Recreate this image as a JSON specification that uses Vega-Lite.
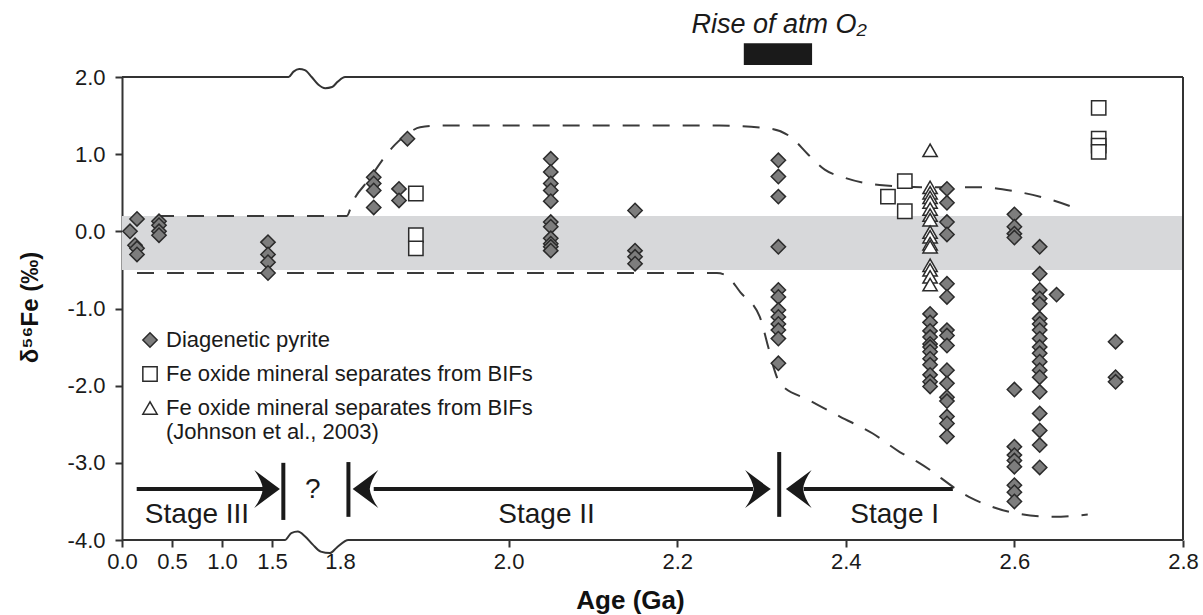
{
  "$schema": "https://vega.github.io/schema/vega-lite/v6.json",
  "width": 1061,
  "height": 463,
  "autosize": "none",
  "padding": {"left": 122, "top": 77, "right": 20, "bottom": 75},
  "background": "white",
  "config": {"view": {"stroke": null}, "font": "Liberation Sans"},
  "datasets": {
    "band": [{"age": 0, "age2": 2.8, "val": -0.5, "val2": 0.2}],
    "o2bar": [{"age": 2.279, "age2": 2.36, "val": 2.155, "val2": 2.437}],
    "env": [
      {"curve": "upper", "age": 0.35, "val": 0.2},
      {"curve": "upper", "age": 1.808, "val": 0.2},
      {"curve": "upper", "age": 1.815, "val": 0.38},
      {"curve": "upper", "age": 1.835, "val": 0.68},
      {"curve": "upper", "age": 1.85, "val": 0.92},
      {"curve": "upper", "age": 1.865, "val": 1.12},
      {"curve": "upper", "age": 1.88, "val": 1.26},
      {"curve": "upper", "age": 1.895, "val": 1.35},
      {"curve": "upper", "age": 1.92, "val": 1.37},
      {"curve": "upper", "age": 2.25, "val": 1.37},
      {"curve": "upper", "age": 2.31, "val": 1.33},
      {"curve": "upper", "age": 2.335, "val": 1.22},
      {"curve": "upper", "age": 2.355, "val": 1.0},
      {"curve": "upper", "age": 2.375, "val": 0.8},
      {"curve": "upper", "age": 2.4, "val": 0.69},
      {"curve": "upper", "age": 2.44, "val": 0.6},
      {"curve": "upper", "age": 2.5, "val": 0.57},
      {"curve": "upper", "age": 2.56, "val": 0.57},
      {"curve": "upper", "age": 2.6, "val": 0.52},
      {"curve": "upper", "age": 2.64, "val": 0.42},
      {"curve": "upper", "age": 2.68, "val": 0.27},
      {"curve": "lower", "age": 0.15, "val": -0.54},
      {"curve": "lower", "age": 2.247, "val": -0.54},
      {"curve": "lower", "age": 2.258, "val": -0.57},
      {"curve": "lower", "age": 2.275, "val": -0.79},
      {"curve": "lower", "age": 2.298, "val": -1.11},
      {"curve": "lower", "age": 2.308, "val": -1.5},
      {"curve": "lower", "age": 2.314, "val": -1.75},
      {"curve": "lower", "age": 2.322, "val": -1.97},
      {"curve": "lower", "age": 2.357, "val": -2.19},
      {"curve": "lower", "age": 2.393, "val": -2.4},
      {"curve": "lower", "age": 2.432, "val": -2.62},
      {"curve": "lower", "age": 2.464, "val": -2.86},
      {"curve": "lower", "age": 2.487, "val": -3.0},
      {"curve": "lower", "age": 2.546, "val": -3.44},
      {"curve": "lower", "age": 2.6, "val": -3.65},
      {"curve": "lower", "age": 2.647, "val": -3.7},
      {"curve": "lower", "age": 2.687, "val": -3.67}
    ],
    "frame": [
      {"edge": "top", "age": 0, "val": 2.0},
      {"edge": "top", "age": 1.573, "val": 2.0},
      {"edge": "top", "age": 1.595, "val": 2.07},
      {"edge": "top", "age": 1.62, "val": 2.105},
      {"edge": "top", "age": 1.645, "val": 2.09},
      {"edge": "top", "age": 1.675, "val": 2.0},
      {"edge": "top", "age": 1.705, "val": 1.9},
      {"edge": "top", "age": 1.735, "val": 1.855},
      {"edge": "top", "age": 1.765, "val": 1.87},
      {"edge": "top", "age": 1.79, "val": 1.94},
      {"edge": "top", "age": 1.806, "val": 2.0},
      {"edge": "top", "age": 2.8, "val": 2.0},
      {"edge": "bottom", "age": 0, "val": -4.0},
      {"edge": "bottom", "age": 1.557, "val": -4.0},
      {"edge": "bottom", "age": 1.585, "val": -3.91},
      {"edge": "bottom", "age": 1.614, "val": -3.89},
      {"edge": "bottom", "age": 1.645, "val": -3.95},
      {"edge": "bottom", "age": 1.68, "val": -4.06},
      {"edge": "bottom", "age": 1.715, "val": -4.15},
      {"edge": "bottom", "age": 1.756, "val": -4.17},
      {"edge": "bottom", "age": 1.785, "val": -4.1},
      {"edge": "bottom", "age": 1.81, "val": -4.0},
      {"edge": "bottom", "age": 2.8, "val": -4.0}
    ],
    "rborder": [{"age": 2.8, "val": -4.0, "val2": 2.0}],
    "shafts": [
      {"age": 0.147, "age2": 1.5, "val": -3.34},
      {"age": 1.84, "age2": 2.29, "val": -3.34},
      {"age": 2.35, "age2": 2.527, "val": -3.34}
    ],
    "bars": [
      {"age": 1.55, "val": -3.0, "val2": -3.74},
      {"age": 1.81, "val": -2.99, "val2": -3.7},
      {"age": 2.321, "val": -2.86, "val2": -3.7}
    ],
    "heads": [
      {"dir": "right", "age": 1.535, "val": -3.34},
      {"dir": "left", "age": 1.815, "val": -3.34},
      {"dir": "right", "age": 2.311, "val": -3.34},
      {"dir": "left", "age": 2.329, "val": -3.34}
    ],
    "labels": [
      {"age": 0.75, "val": -3.68, "text": "Stage III"},
      {"age": 1.68, "val": -3.35, "text": "?"},
      {"age": 2.045, "val": -3.68, "text": "Stage II"},
      {"age": 2.458, "val": -3.68, "text": "Stage I"}
    ],
    "toptext": [{"age": 2.321, "val": 2.57, "text": "Rise of atm O₂"}],
    "points": [
      {"type": "Diagenetic pyrite", "age": 0.08, "val": 0.0},
      {"type": "Diagenetic pyrite", "age": 0.15, "val": 0.16},
      {"type": "Diagenetic pyrite", "age": 0.13, "val": -0.18},
      {"type": "Diagenetic pyrite", "age": 0.15, "val": -0.22},
      {"type": "Diagenetic pyrite", "age": 0.15, "val": -0.3},
      {"type": "Diagenetic pyrite", "age": 0.37, "val": 0.13},
      {"type": "Diagenetic pyrite", "age": 0.37, "val": 0.08},
      {"type": "Diagenetic pyrite", "age": 0.37, "val": 0.0},
      {"type": "Diagenetic pyrite", "age": 0.37, "val": -0.05},
      {"type": "Diagenetic pyrite", "age": 1.46, "val": -0.14},
      {"type": "Diagenetic pyrite", "age": 1.46, "val": -0.3},
      {"type": "Diagenetic pyrite", "age": 1.46, "val": -0.4},
      {"type": "Diagenetic pyrite", "age": 1.46, "val": -0.54},
      {"type": "Diagenetic pyrite", "age": 1.84, "val": 0.7},
      {"type": "Diagenetic pyrite", "age": 1.84, "val": 0.62},
      {"type": "Diagenetic pyrite", "age": 1.84, "val": 0.53},
      {"type": "Diagenetic pyrite", "age": 1.84, "val": 0.31},
      {"type": "Diagenetic pyrite", "age": 1.87, "val": 0.55},
      {"type": "Diagenetic pyrite", "age": 1.87, "val": 0.4},
      {"type": "Diagenetic pyrite", "age": 1.88, "val": 1.2},
      {"type": "Diagenetic pyrite", "age": 2.05, "val": 0.94},
      {"type": "Diagenetic pyrite", "age": 2.05, "val": 0.77},
      {"type": "Diagenetic pyrite", "age": 2.05, "val": 0.62},
      {"type": "Diagenetic pyrite", "age": 2.05, "val": 0.53},
      {"type": "Diagenetic pyrite", "age": 2.05, "val": 0.39},
      {"type": "Diagenetic pyrite", "age": 2.05, "val": 0.12},
      {"type": "Diagenetic pyrite", "age": 2.05, "val": 0.06},
      {"type": "Diagenetic pyrite", "age": 2.05, "val": -0.09},
      {"type": "Diagenetic pyrite", "age": 2.05, "val": -0.16},
      {"type": "Diagenetic pyrite", "age": 2.05, "val": -0.2},
      {"type": "Diagenetic pyrite", "age": 2.05, "val": -0.25},
      {"type": "Diagenetic pyrite", "age": 2.15, "val": 0.27},
      {"type": "Diagenetic pyrite", "age": 2.15, "val": -0.25},
      {"type": "Diagenetic pyrite", "age": 2.15, "val": -0.33},
      {"type": "Diagenetic pyrite", "age": 2.15, "val": -0.42},
      {"type": "Diagenetic pyrite", "age": 2.32, "val": 0.92},
      {"type": "Diagenetic pyrite", "age": 2.32, "val": 0.71},
      {"type": "Diagenetic pyrite", "age": 2.32, "val": 0.45},
      {"type": "Diagenetic pyrite", "age": 2.32, "val": -0.2},
      {"type": "Diagenetic pyrite", "age": 2.32, "val": -0.76},
      {"type": "Diagenetic pyrite", "age": 2.32, "val": -0.85},
      {"type": "Diagenetic pyrite", "age": 2.32, "val": -1.02},
      {"type": "Diagenetic pyrite", "age": 2.32, "val": -1.11},
      {"type": "Diagenetic pyrite", "age": 2.32, "val": -1.2},
      {"type": "Diagenetic pyrite", "age": 2.32, "val": -1.28},
      {"type": "Diagenetic pyrite", "age": 2.32, "val": -1.39},
      {"type": "Diagenetic pyrite", "age": 2.32, "val": -1.71},
      {"type": "Diagenetic pyrite", "age": 2.5, "val": -1.07},
      {"type": "Diagenetic pyrite", "age": 2.5, "val": -1.18},
      {"type": "Diagenetic pyrite", "age": 2.5, "val": -1.29},
      {"type": "Diagenetic pyrite", "age": 2.5, "val": -1.37},
      {"type": "Diagenetic pyrite", "age": 2.5, "val": -1.46},
      {"type": "Diagenetic pyrite", "age": 2.5, "val": -1.5},
      {"type": "Diagenetic pyrite", "age": 2.5, "val": -1.56},
      {"type": "Diagenetic pyrite", "age": 2.5, "val": -1.65},
      {"type": "Diagenetic pyrite", "age": 2.5, "val": -1.73},
      {"type": "Diagenetic pyrite", "age": 2.5, "val": -1.86},
      {"type": "Diagenetic pyrite", "age": 2.5, "val": -1.95},
      {"type": "Diagenetic pyrite", "age": 2.5, "val": -2.01},
      {"type": "Diagenetic pyrite", "age": 2.52, "val": 0.55},
      {"type": "Diagenetic pyrite", "age": 2.52, "val": 0.37},
      {"type": "Diagenetic pyrite", "age": 2.52, "val": 0.12},
      {"type": "Diagenetic pyrite", "age": 2.52, "val": -0.04},
      {"type": "Diagenetic pyrite", "age": 2.52, "val": -0.68},
      {"type": "Diagenetic pyrite", "age": 2.52, "val": -0.85},
      {"type": "Diagenetic pyrite", "age": 2.52, "val": -1.28},
      {"type": "Diagenetic pyrite", "age": 2.52, "val": -1.35},
      {"type": "Diagenetic pyrite", "age": 2.52, "val": -1.48},
      {"type": "Diagenetic pyrite", "age": 2.52, "val": -1.8},
      {"type": "Diagenetic pyrite", "age": 2.52, "val": -1.97},
      {"type": "Diagenetic pyrite", "age": 2.52, "val": -2.15},
      {"type": "Diagenetic pyrite", "age": 2.52, "val": -2.2},
      {"type": "Diagenetic pyrite", "age": 2.52, "val": -2.4},
      {"type": "Diagenetic pyrite", "age": 2.52, "val": -2.49},
      {"type": "Diagenetic pyrite", "age": 2.52, "val": -2.66},
      {"type": "Diagenetic pyrite", "age": 2.6, "val": 0.22},
      {"type": "Diagenetic pyrite", "age": 2.6, "val": 0.06},
      {"type": "Diagenetic pyrite", "age": 2.6, "val": -0.03},
      {"type": "Diagenetic pyrite", "age": 2.6, "val": -0.08},
      {"type": "Diagenetic pyrite", "age": 2.6, "val": -2.05},
      {"type": "Diagenetic pyrite", "age": 2.6, "val": -2.79},
      {"type": "Diagenetic pyrite", "age": 2.6, "val": -2.9},
      {"type": "Diagenetic pyrite", "age": 2.6, "val": -2.97},
      {"type": "Diagenetic pyrite", "age": 2.6, "val": -3.05},
      {"type": "Diagenetic pyrite", "age": 2.6, "val": -3.29},
      {"type": "Diagenetic pyrite", "age": 2.6, "val": -3.38},
      {"type": "Diagenetic pyrite", "age": 2.6, "val": -3.5},
      {"type": "Diagenetic pyrite", "age": 2.63, "val": -0.2},
      {"type": "Diagenetic pyrite", "age": 2.63, "val": -0.55},
      {"type": "Diagenetic pyrite", "age": 2.63, "val": -0.76},
      {"type": "Diagenetic pyrite", "age": 2.63, "val": -0.87},
      {"type": "Diagenetic pyrite", "age": 2.63, "val": -0.94},
      {"type": "Diagenetic pyrite", "age": 2.63, "val": -1.13},
      {"type": "Diagenetic pyrite", "age": 2.63, "val": -1.2},
      {"type": "Diagenetic pyrite", "age": 2.63, "val": -1.28},
      {"type": "Diagenetic pyrite", "age": 2.63, "val": -1.39},
      {"type": "Diagenetic pyrite", "age": 2.63, "val": -1.5},
      {"type": "Diagenetic pyrite", "age": 2.63, "val": -1.58},
      {"type": "Diagenetic pyrite", "age": 2.63, "val": -1.69},
      {"type": "Diagenetic pyrite", "age": 2.63, "val": -1.8},
      {"type": "Diagenetic pyrite", "age": 2.63, "val": -1.89},
      {"type": "Diagenetic pyrite", "age": 2.63, "val": -2.08},
      {"type": "Diagenetic pyrite", "age": 2.63, "val": -2.36},
      {"type": "Diagenetic pyrite", "age": 2.63, "val": -2.58},
      {"type": "Diagenetic pyrite", "age": 2.63, "val": -2.77},
      {"type": "Diagenetic pyrite", "age": 2.63, "val": -3.06},
      {"type": "Diagenetic pyrite", "age": 2.65, "val": -0.82},
      {"type": "Diagenetic pyrite", "age": 2.72, "val": -1.43},
      {"type": "Diagenetic pyrite", "age": 2.72, "val": -1.89},
      {"type": "Diagenetic pyrite", "age": 2.72, "val": -1.95},
      {"type": "Fe oxide mineral separates from BIFs", "age": 1.89, "val": 0.49},
      {"type": "Fe oxide mineral separates from BIFs", "age": 1.89, "val": -0.05},
      {"type": "Fe oxide mineral separates from BIFs", "age": 1.89, "val": -0.22},
      {"type": "Fe oxide mineral separates from BIFs", "age": 2.45, "val": 0.45},
      {"type": "Fe oxide mineral separates from BIFs", "age": 2.47, "val": 0.65},
      {"type": "Fe oxide mineral separates from BIFs", "age": 2.47, "val": 0.26},
      {"type": "Fe oxide mineral separates from BIFs", "age": 2.7, "val": 1.6},
      {"type": "Fe oxide mineral separates from BIFs", "age": 2.7, "val": 1.2},
      {"type": "Fe oxide mineral separates from BIFs", "age": 2.7, "val": 1.11},
      {"type": "Fe oxide mineral separates from BIFs", "age": 2.7, "val": 1.03},
      {"type": "Fe oxide mineral separates from BIFs (Johnson et al., 2003)", "age": 2.5, "val": 1.05},
      {"type": "Fe oxide mineral separates from BIFs (Johnson et al., 2003)", "age": 2.5, "val": 0.57},
      {"type": "Fe oxide mineral separates from BIFs (Johnson et al., 2003)", "age": 2.5, "val": 0.5},
      {"type": "Fe oxide mineral separates from BIFs (Johnson et al., 2003)", "age": 2.5, "val": 0.44},
      {"type": "Fe oxide mineral separates from BIFs (Johnson et al., 2003)", "age": 2.5, "val": 0.38},
      {"type": "Fe oxide mineral separates from BIFs (Johnson et al., 2003)", "age": 2.5, "val": 0.29},
      {"type": "Fe oxide mineral separates from BIFs (Johnson et al., 2003)", "age": 2.5, "val": 0.21},
      {"type": "Fe oxide mineral separates from BIFs (Johnson et al., 2003)", "age": 2.5, "val": 0.15},
      {"type": "Fe oxide mineral separates from BIFs (Johnson et al., 2003)", "age": 2.5, "val": -0.01},
      {"type": "Fe oxide mineral separates from BIFs (Johnson et al., 2003)", "age": 2.5, "val": -0.07},
      {"type": "Fe oxide mineral separates from BIFs (Johnson et al., 2003)", "age": 2.5, "val": -0.16},
      {"type": "Fe oxide mineral separates from BIFs (Johnson et al., 2003)", "age": 2.5, "val": -0.2},
      {"type": "Fe oxide mineral separates from BIFs (Johnson et al., 2003)", "age": 2.5, "val": -0.44},
      {"type": "Fe oxide mineral separates from BIFs (Johnson et al., 2003)", "age": 2.5, "val": -0.5},
      {"type": "Fe oxide mineral separates from BIFs (Johnson et al., 2003)", "age": 2.5, "val": -0.59},
      {"type": "Fe oxide mineral separates from BIFs (Johnson et al., 2003)", "age": 2.5, "val": -0.69}
    ]
  },
  "encoding": {
    "x": {
      "field": "age",
      "type": "quantitative",
      "scale": {"domain": [0, 1.5, 1.8, 2.8], "range": [0, 150, 218, 1061], "nice": false, "zero": false},
      "axis": {
        "values": [0, 0.5, 1, 1.5, 1.8, 2, 2.2, 2.4, 2.6, 2.8],
        "format": ".1f",
        "domain": false,
        "grid": false,
        "tickSize": 7,
        "tickWidth": 2,
        "tickColor": "#333333",
        "tickOpacity": {"condition": {"test": "datum.value == 1.8", "value": 0}, "value": 1},
        "labelFontSize": 22,
        "labelFont": "Liberation Sans",
        "labelColor": "#1a1a1a",
        "labelPadding": 4,
        "labelFlush": false,
        "labelOverlap": false,
        "title": "Age (Ga)",
        "titleFont": "Liberation Sans",
        "titleFontSize": 26,
        "titleFontWeight": "bold",
        "titleColor": "#111111",
        "titleX": 508,
        "titleY": 60,
        "titleAlign": "center",
        "titleBaseline": "middle"
      }
    },
    "y": {
      "field": "val",
      "type": "quantitative",
      "scale": {"domain": [-4, 2], "nice": false, "zero": false},
      "axis": {
        "values": [-4, -3, -2, -1, 0, 1, 2],
        "labelExpr": "(datum.value < 0 ? '-' : '') + format(abs(datum.value), '.1f')",
        "domain": true,
        "domainColor": "#333333",
        "domainWidth": 2,
        "grid": false,
        "tickSize": 7,
        "tickWidth": 2,
        "tickColor": "#333333",
        "labelFontSize": 22,
        "labelFont": "Liberation Sans",
        "labelColor": "#1a1a1a",
        "labelPadding": 10,
        "labelFlush": false,
        "labelOverlap": false,
        "title": "δ⁵⁶Fe (‰)",
        "titleFont": "Liberation Sans",
        "titleFontSize": 24,
        "titleFontWeight": "bold",
        "titleColor": "#111111",
        "titleX": -92,
        "titleY": 230,
        "titleAngle": -90,
        "titleAlign": "center",
        "titleBaseline": "middle"
      }
    }
  },
  "layer": [
    {
      "data": {"name": "band"},
      "mark": {"type": "rect", "fill": "#d7d8da"},
      "encoding": {"x2": {"field": "age2"}, "y2": {"field": "val2"}}
    },
    {
      "data": {"name": "env"},
      "mark": {"type": "line", "interpolate": "monotone", "stroke": "#3a3a3a", "strokeWidth": 2, "strokeDash": [17, 13]},
      "encoding": {"detail": {"field": "curve"}}
    },
    {
      "data": {"name": "frame"},
      "mark": {"type": "line", "interpolate": "monotone", "stroke": "#333333", "strokeWidth": 2},
      "encoding": {"detail": {"field": "edge"}}
    },
    {
      "data": {"name": "rborder"},
      "mark": {"type": "rule", "stroke": "#333333", "strokeWidth": 2},
      "encoding": {"y2": {"field": "val2"}}
    },
    {
      "data": {"name": "shafts"},
      "mark": {"type": "rule", "stroke": "#1a1a1a", "strokeWidth": 4},
      "encoding": {"x2": {"field": "age2"}}
    },
    {
      "data": {"name": "bars"},
      "mark": {"type": "rule", "stroke": "#1a1a1a", "strokeWidth": 4},
      "encoding": {"y2": {"field": "val2"}}
    },
    {
      "data": {"name": "heads"},
      "transform": [{"filter": "datum.dir == 'right'"}],
      "mark": {"type": "point", "filled": true, "fill": "#1a1a1a", "strokeWidth": 0, "opacity": 1, "size": 1444,
        "shape": "M0,0 Q-0.55,-0.4 -1.35,-1 Q-0.95,-0.45 -0.9,0 Q-0.95,0.45 -1.35,1 Q-0.55,0.4 0,0 Z"},
      "encoding": {}
    },
    {
      "data": {"name": "heads"},
      "transform": [{"filter": "datum.dir == 'left'"}],
      "mark": {"type": "point", "filled": true, "fill": "#1a1a1a", "strokeWidth": 0, "opacity": 1, "size": 1444,
        "shape": "M0,0 Q0.55,-0.4 1.35,-1 Q0.95,-0.45 0.9,0 Q0.95,0.45 1.35,1 Q0.55,0.4 0,0 Z"},
      "encoding": {}
    },
    {
      "data": {"name": "labels"},
      "mark": {"type": "text", "fontSize": 28, "font": "Liberation Sans", "color": "#1a1a1a", "align": "center", "baseline": "middle"},
      "encoding": {"text": {"field": "text"}}
    },
    {
      "data": {"name": "toptext"},
      "mark": {"type": "text", "fontSize": 27, "font": "Liberation Sans", "fontStyle": "italic", "color": "#1a1a1a", "align": "center", "baseline": "alphabetic"},
      "encoding": {"text": {"field": "text"}}
    },
    {
      "data": {"name": "o2bar"},
      "mark": {"type": "rect", "fill": "#1a1a1a"},
      "encoding": {"x2": {"field": "age2"}, "y2": {"field": "val2"}}
    },
    {
      "data": {"name": "points"},
      "mark": {"type": "point", "filled": true, "strokeWidth": 1.5, "opacity": 1, "size": 205},
      "encoding": {
        "shape": {
          "field": "type",
          "type": "nominal",
          "scale": {
            "domain": ["Diagenetic pyrite", "Fe oxide mineral separates from BIFs", "Fe oxide mineral separates from BIFs (Johnson et al., 2003)"],
            "range": ["diamond", "square", "triangle-up"]
          },
          "legend": {
            "orient": "none", "legendX": 17, "legendY": 252, "title": null,
            "labelFontSize": 22, "labelFont": "Liberation Sans", "labelColor": "#1a1a1a", "labelLimit": 0,
            "symbolSize": 205, "symbolStrokeWidth": 1.5,
            "rowPadding": 12, "labelOffset": 5,
            "labelExpr": "datum.label == 'Fe oxide mineral separates from BIFs (Johnson et al., 2003)' ? ['Fe oxide mineral separates from BIFs', '(Johnson et al., 2003)'] : datum.label"
          }
        },
        "fill": {
          "field": "type",
          "type": "nominal",
          "scale": {
            "domain": ["Diagenetic pyrite", "Fe oxide mineral separates from BIFs", "Fe oxide mineral separates from BIFs (Johnson et al., 2003)"],
            "range": ["#7d7d7d", "#ffffff", "#ffffff"]
          },
          "legend": {
            "orient": "none", "legendX": 17, "legendY": 252, "title": null,
            "labelFontSize": 22, "labelFont": "Liberation Sans", "labelColor": "#1a1a1a", "labelLimit": 0,
            "symbolSize": 205, "symbolStrokeWidth": 1.5,
            "rowPadding": 12, "labelOffset": 5,
            "labelExpr": "datum.label == 'Fe oxide mineral separates from BIFs (Johnson et al., 2003)' ? ['Fe oxide mineral separates from BIFs', '(Johnson et al., 2003)'] : datum.label"
          }
        },
        "stroke": {
          "field": "type",
          "type": "nominal",
          "scale": {
            "domain": ["Diagenetic pyrite", "Fe oxide mineral separates from BIFs", "Fe oxide mineral separates from BIFs (Johnson et al., 2003)"],
            "range": ["#2b2b2b", "#2b2b2b", "#2b2b2b"]
          },
          "legend": {
            "orient": "none", "legendX": 17, "legendY": 252, "title": null,
            "labelFontSize": 22, "labelFont": "Liberation Sans", "labelColor": "#1a1a1a", "labelLimit": 0,
            "symbolSize": 205, "symbolStrokeWidth": 1.5,
            "rowPadding": 12, "labelOffset": 5,
            "labelExpr": "datum.label == 'Fe oxide mineral separates from BIFs (Johnson et al., 2003)' ? ['Fe oxide mineral separates from BIFs', '(Johnson et al., 2003)'] : datum.label"
          }
        }
      }
    }
  ]
}
